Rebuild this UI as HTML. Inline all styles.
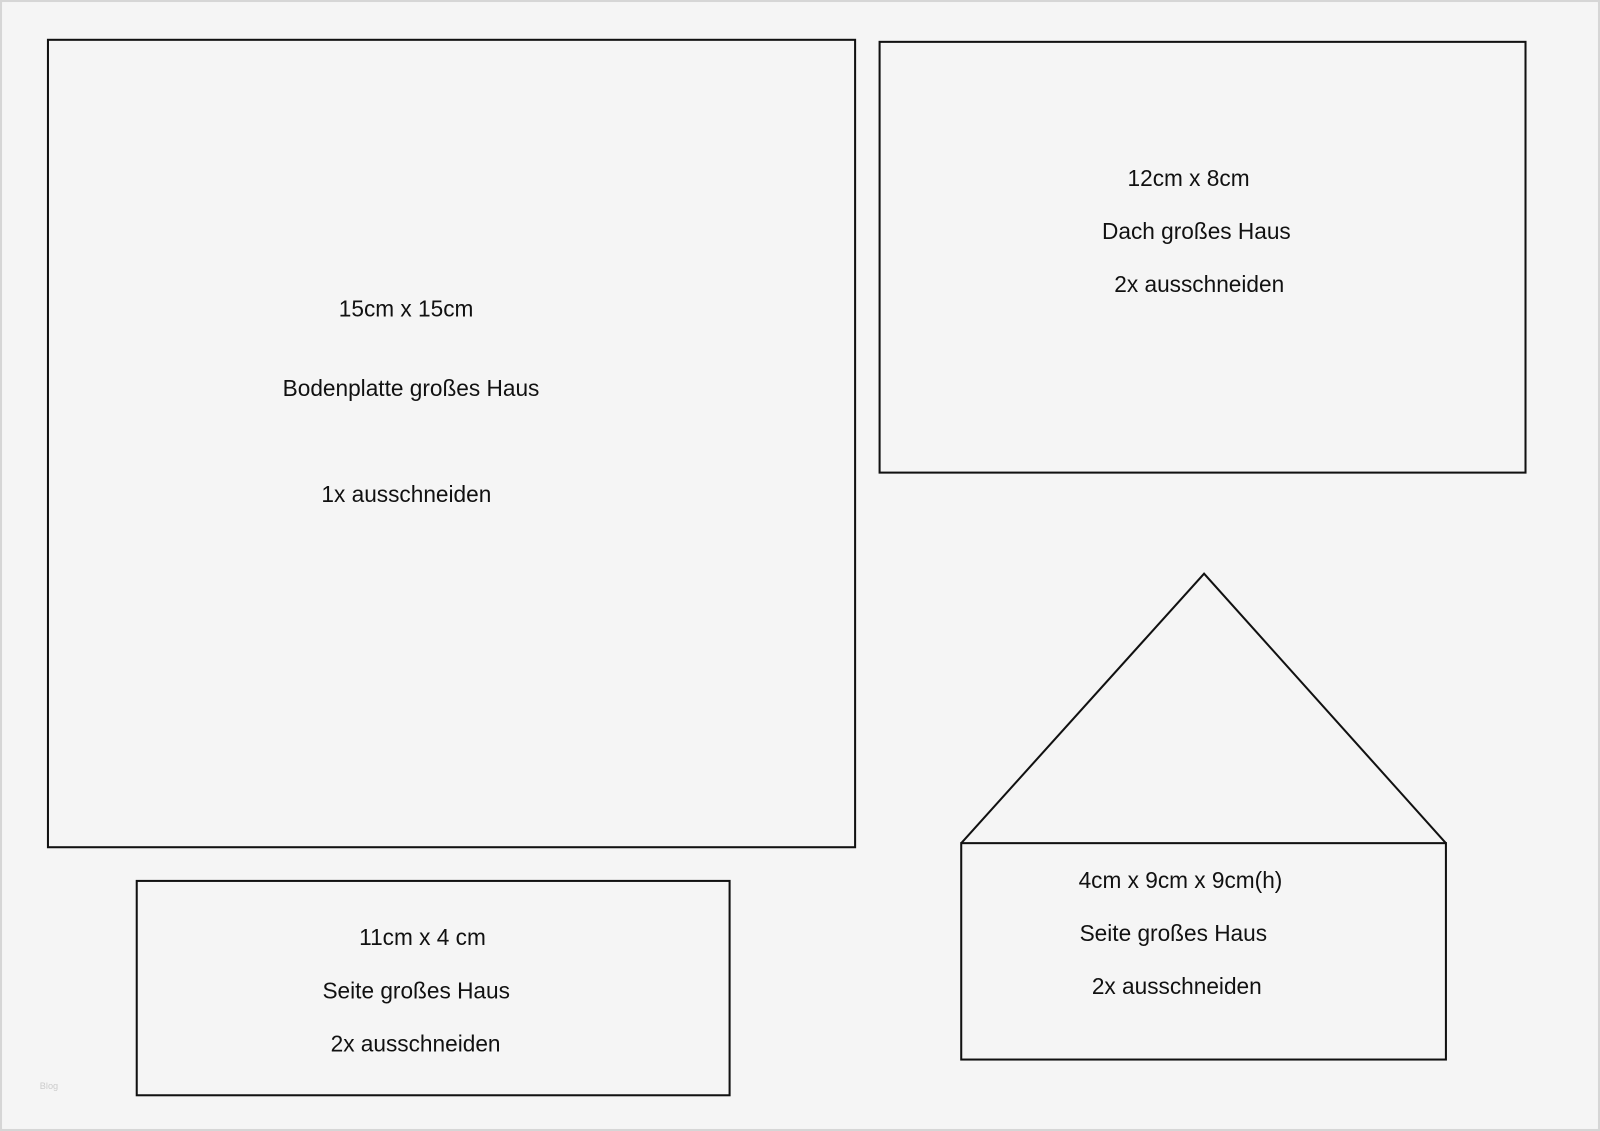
<!DOCTYPE html>
<html><head><meta charset="utf-8"><style>
html,body{margin:0;padding:0;background:#f5f5f5;}
svg{display:block}
text{font-family:"Liberation Sans",sans-serif;font-size:22.2px;fill:#111;}
</style></head><body>
<svg width="1600" height="1131" viewBox="0 0 1568 1108" preserveAspectRatio="none" xmlns="http://www.w3.org/2000/svg">
<rect x="0" y="0" width="1568" height="1108" fill="#f5f5f5"/>
<rect x="1" y="1" width="1566" height="1106" fill="none" stroke="#d6d6d6" stroke-width="2"/>
<g fill="none" stroke="#111" stroke-width="2">
<rect x="47" y="39" width="791" height="791"/>
<rect x="862" y="41" width="633" height="422"/>
<rect x="134" y="863" width="581" height="210"/>
<rect x="942" y="826" width="475" height="212"/>
<polyline points="942,826 1180,562 1417,826"/>
</g>
<text x="332" y="310">15cm x 15cm</text>
<text x="277" y="388">Bodenplatte großes Haus</text>
<text x="315" y="492">1x ausschneiden</text>
<text x="1105" y="182">12cm x 8cm</text>
<text x="1080" y="234">Dach großes Haus</text>
<text x="1092" y="286">2x ausschneiden</text>
<text x="352" y="926">11cm x 4 cm</text>
<text x="316" y="978">Seite großes Haus</text>
<text x="324" y="1030">2x ausschneiden</text>
<text x="1057" y="870">4cm x 9cm x 9cm(h)</text>
<text x="1058" y="922">Seite großes Haus</text>
<text x="1070" y="974">2x ausschneiden</text>
<text x="39" y="1067" style="font-size:9px;fill:#ccc">Blog</text>
</svg>
</body></html>
